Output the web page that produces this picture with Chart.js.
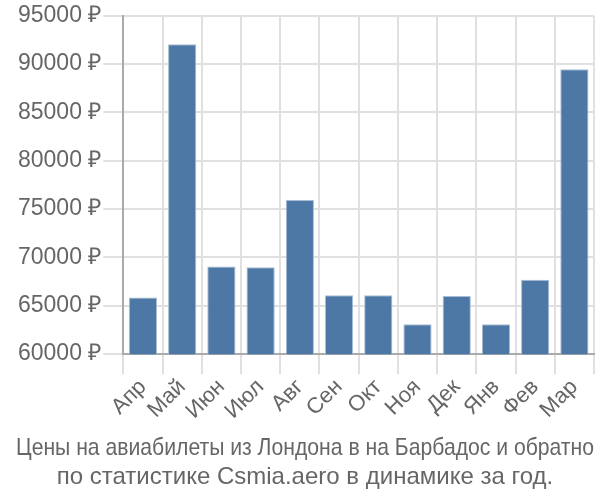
<!DOCTYPE html>
<html>
<head>
<meta charset="utf-8">
<script src="https://cdn.jsdelivr.net/npm/chart.js@4/dist/chart.umd.min.js"></script>
<style>
  html, body { margin: 0; padding: 0; background: #fff; }
  #wrap { width: 600px; height: 500px; }
</style>
</head>
<body>
<div id="wrap"><canvas id="chart"></canvas></div>
<script>
const months = ['Апр', 'Май', 'Июн', 'Июл', 'Авг', 'Сен', 'Окт', 'Ноя', 'Дек', 'Янв', 'Фев', 'Мар'];
const prices = [65850, 92050, 69070, 69000, 75950, 66100, 66100, 63100, 66020, 63100, 67700, 89480];
const titleLines = [
  'Цены на авиабилеты из Лондона в на Барбадос и обратно',
  'по статистике Csmia.aero в динамике за год.'
];

const ctx = document.getElementById('chart').getContext('2d');
new Chart(ctx, {
  type: 'bar',
  data: {
    labels: months,
    datasets: [{
      data: prices,
      backgroundColor: '#4d78a6',
      borderColor: '#a9bdd6',
      borderWidth: 1,
      categoryPercentage: 0.9,
      barPercentage: 0.8
    }]
  },
  options: {
    responsive: true,
    maintainAspectRatio: false,
    animation: false,
    layout: { padding: { top: 0, right: 6, left: 16, bottom: 0 } },
    plugins: {
      legend: { display: false },
      tooltip: { enabled: false },
      title: {
        display: true,
        position: 'bottom',
        text: titleLines,
        color: '#666',
        font: { family: 'Liberation Sans', size: 24, weight: 'normal' },
        padding: { top: 10, bottom: 8 },
        lineHeight: 1.05
      }
    },
    scales: {
      x: {
        grid: { color: '#e0e0e0', lineWidth: 2, tickLength: 20, offset: true },
        border: { color: '#aaa', width: 2 },
        ticks: {
          color: '#666',
          font: { family: 'Liberation Sans', size: 22 },
          maxRotation: 45,
          minRotation: 45,
          autoSkip: false,
          padding: 0
        }
      },
      y: {
        min: 60000,
        max: 95000,
        grid: { color: '#e0e0e0', lineWidth: 2, tickLength: 20 },
        border: { color: '#aaa', width: 2 },
        ticks: {
          stepSize: 5000,
          color: '#666',
          padding: 2,
          font: { family: 'Liberation Sans', size: 23 },
          callback: v => v + ' ₽'
        }
      }
    }
  }
});
</script>
</body>
</html>
